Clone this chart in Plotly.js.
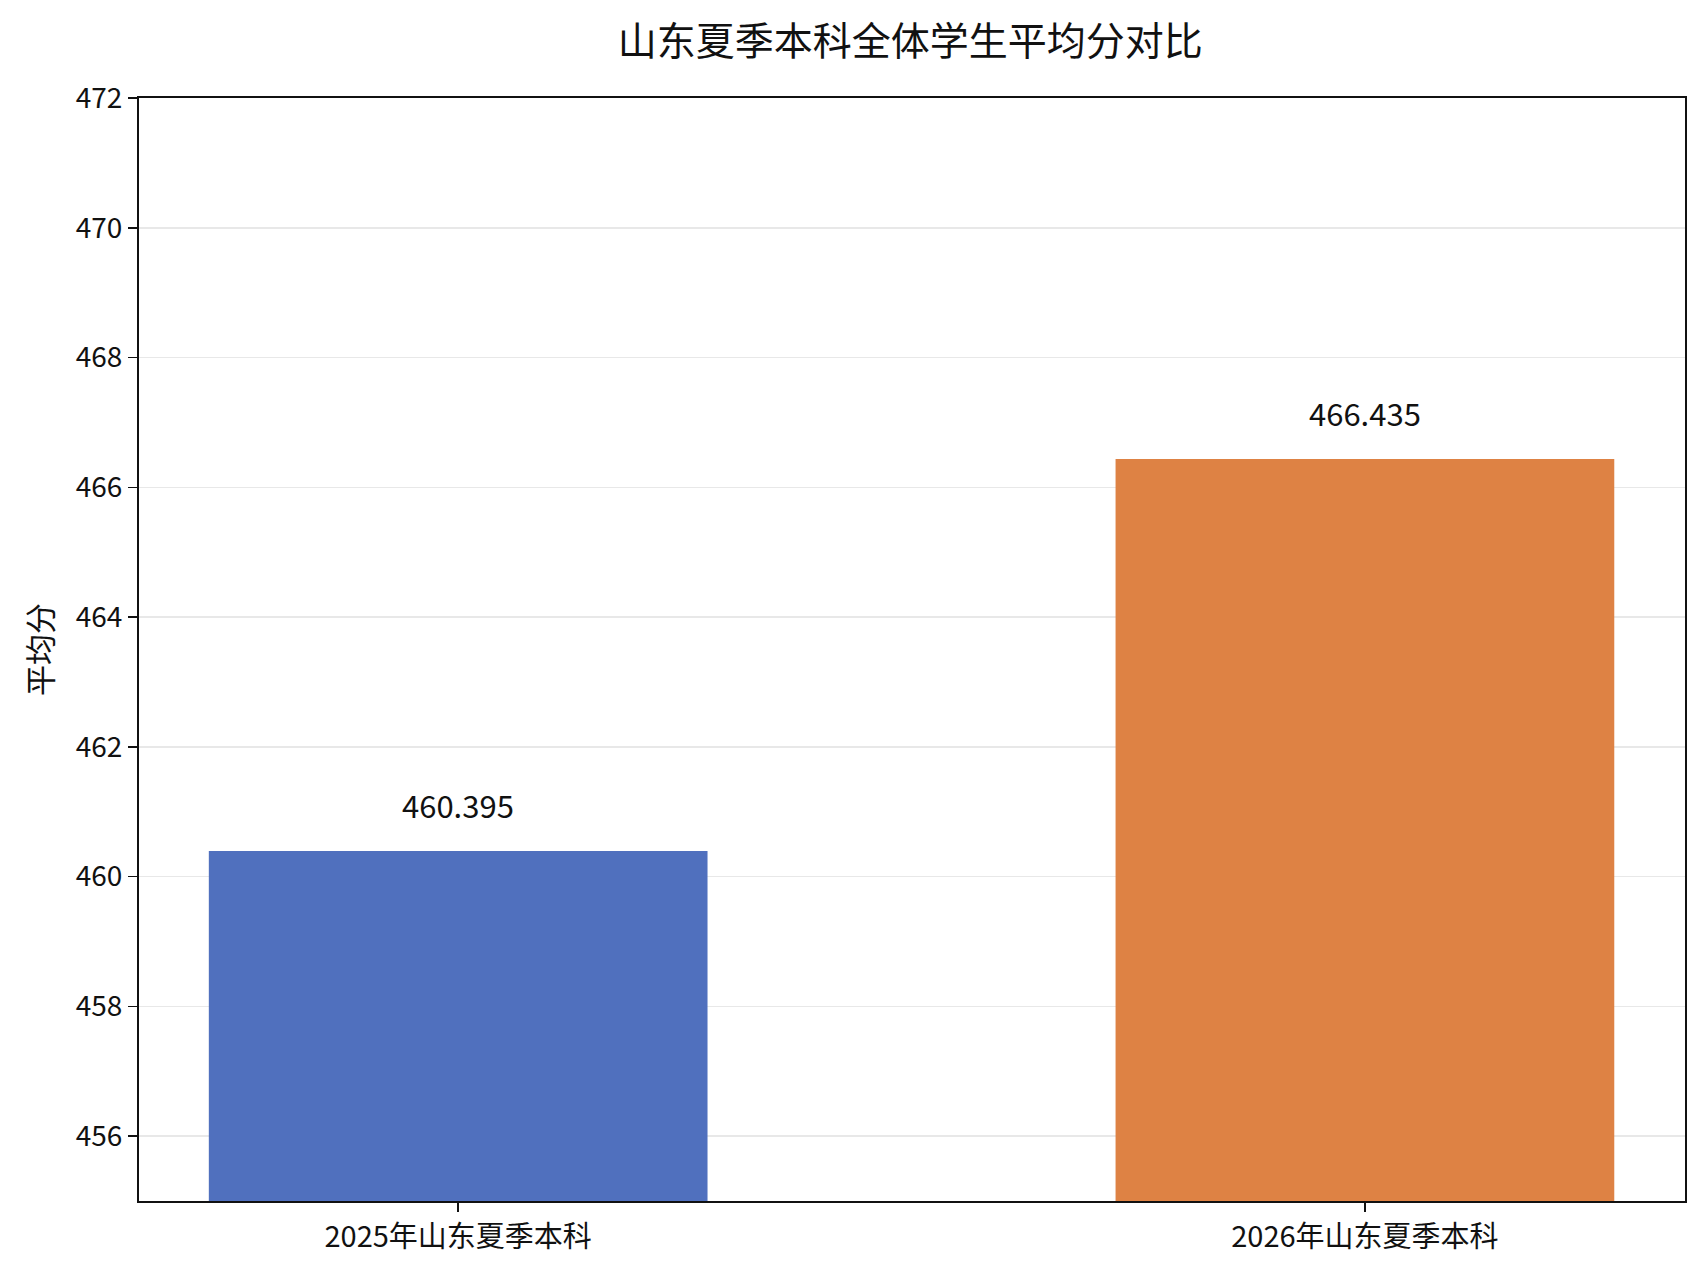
<!DOCTYPE html>
<html>
<head>
<meta charset="utf-8">
<script src="https://cdn.plot.ly/plotly-3.0.1.min.js"></script>
<style>html,body{margin:0;padding:0;background:#fff;}#chart{width:1708px;height:1288px;}</style>
</head>
<body>
<div id="chart"></div>
<script>
const categories = ["2025年山东夏季本科", "2026年山东夏季本科"];
const values = [460.395, 466.435];
const valueLabels = ["460.395", "466.435"];
const barColors = ["#5070BE", "#DE8244"];
const yTicks = [456, 458, 460, 462, 464, 466, 468, 470, 472];

const FONT = '"Noto Sans CJK SC", "Noto Sans", sans-serif';

const trace = {
  type: 'bar',
  x: categories,
  y: values,
  width: 0.55,
  marker: {color: barColors, line: {width: 0}},
  hoverinfo: 'none'
};

const annotations = categories.map((c, i) => ({
  x: c, y: values[i], xref: 'x', yref: 'y',
  text: valueLabels[i], showarrow: false,
  yanchor: 'bottom', yshift: 22,
  font: {family: FONT, size: 31, color: '#111'}
}));

const layout = {
  width: 1708, height: 1288,
  margin: {l: 139, r: 23, t: 98, b: 87},
  paper_bgcolor: '#fff', plot_bgcolor: '#fff',
  showlegend: false,
  title: {text: '山东夏季本科全体学生平均分对比', font: {family: FONT, size: 39, color: '#111'},
          x: 0.533, xanchor: 'center', y: 0.968, yanchor: 'middle'},
  xaxis: {
    type: 'category', range: [-0.352, 1.353],
    showline: true, linecolor: '#111', linewidth: 2, mirror: true,
    ticks: 'outside', ticklen: 9, tickwidth: 1.5, tickcolor: '#111',
    showgrid: false,
    tickfont: {family: FONT, size: 29, color: '#111'}
  },
  yaxis: {
    range: [455, 472], tickvals: yTicks, ticktext: yTicks.map(String),
    showline: true, linecolor: '#111', linewidth: 2, mirror: true,
    ticks: 'outside', ticklen: 9, tickwidth: 1.5, tickcolor: '#111',
    showgrid: true, gridcolor: '#e8e8e8', gridwidth: 1.5,
    zeroline: false,
    tickfont: {family: FONT, size: 28, color: '#111'},
    title: {text: '平均分', font: {family: FONT, size: 31, color: '#111'}, standoff: 14}
  },
  annotations: annotations
};

Plotly.newPlot('chart', [trace], layout, {displayModeBar: false, staticPlot: true});
</script>
</body>
</html>
